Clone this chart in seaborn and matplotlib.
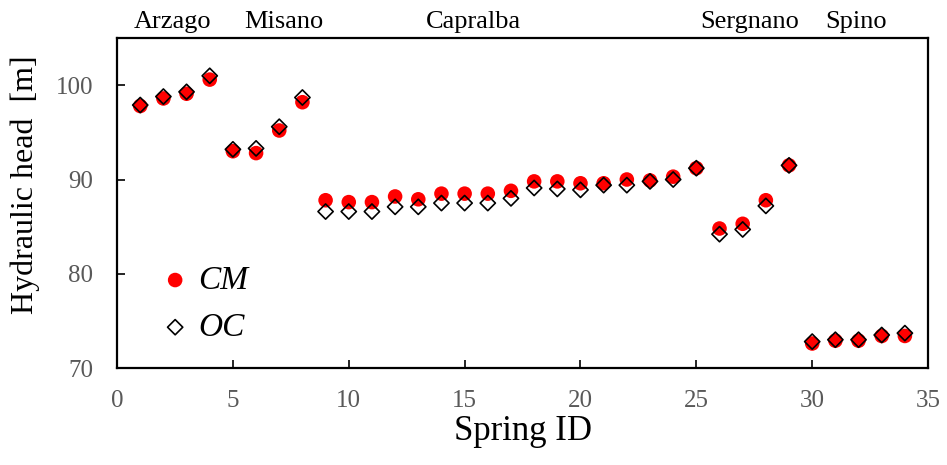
import numpy as np
import pandas as pd
import matplotlib
matplotlib.use("Agg")
import matplotlib.pyplot as plt
import seaborn as sns

# ==========================================
# DATA
# ==========================================
spring_id = list(range(1, 35))
cm_head = [97.8, 98.6, 99.1, 100.6, 93.0, 92.8, 95.2, 98.2,
           87.8, 87.6, 87.6, 88.2, 87.9, 88.5, 88.5, 88.5, 88.8,
           89.8, 89.8, 89.6, 89.6, 90.0, 89.9, 90.3, 91.2,
           84.8, 85.3, 87.8, 91.5,
           72.6, 72.9, 72.9, 73.4, 73.4]
oc_head = [97.9, 98.8, 99.3, 101.0, 93.2, 93.3, 95.6, 98.7,
           86.6, 86.6, 86.6, 87.1, 87.1, 87.5, 87.5, 87.5, 88.0,
           89.1, 89.0, 88.9, 89.4, 89.4, 89.8, 90.0, 91.2,
           84.2, 84.7, 87.2, 91.5,
           72.8, 73.0, 73.0, 73.5, 73.7]
sites = ["Arzago", "Misano", "Capralba", "Sergnano", "Spino"]
site_x = [2.4, 7.2, 15.4, 27.3, 31.9]

df = pd.DataFrame({"id": spring_id, "CM": cm_head, "OC": oc_head})

# ==========================================
# PLOT
# ==========================================
sns.set_style("white")
plt.rcParams["font.family"] = ["Liberation Serif", "DejaVu Serif"]
plt.rcParams["text.color"] = "black"
plt.rcParams["axes.labelcolor"] = "black"

fig = plt.figure(figsize=(9.47, 4.65), dpi=100)
ax = fig.add_axes([0.1236, 0.2086, 0.8564, 0.7094])

sns.scatterplot(data=df, x="id", y="CM", ax=ax, marker="o", s=110,
                color="#ff0000", edgecolor="none", label="CM", zorder=2)
sns.scatterplot(data=df, x="id", y="OC", ax=ax, marker="D", s=60,
                facecolor="none", edgecolor="black", linewidth=1.2,
                label="OC", zorder=3)

ax.set_xlim(0, 35)
ax.set_ylim(70, 105)
ax.set_xticks(range(0, 36, 5))
ax.set_yticks([70, 80, 90, 100])
ax.tick_params(direction="in", length=6, width=1.2, labelsize=18,
               color="black", labelcolor="#595959", bottom=True, left=True)
ax.tick_params(axis="x", pad=16)
ax.tick_params(axis="y", pad=17)
for sp in ax.spines.values():
    sp.set_linewidth(1.6)
    sp.set_color("black")

ax.set_xlabel("Spring ID", fontsize=25, labelpad=2)
ax.set_ylabel("Hydraulic head  [m]", fontsize=23)
ax.yaxis.set_label_coords(-0.095, 0.555)

trans = ax.get_xaxis_transform()
for name, xv in zip(sites, site_x):
    ax.text(xv, 1.015, name, transform=trans, ha="center", va="bottom",
            fontsize=19)

leg = ax.legend(loc="lower left", bbox_to_anchor=(0.01, -0.015), frameon=False,
                prop={"style": "italic", "size": 24}, labelspacing=0.5,
                handletextpad=0.1, handlelength=1.2, markerscale=1.0)

fig.savefig("out.png", dpi=100)
